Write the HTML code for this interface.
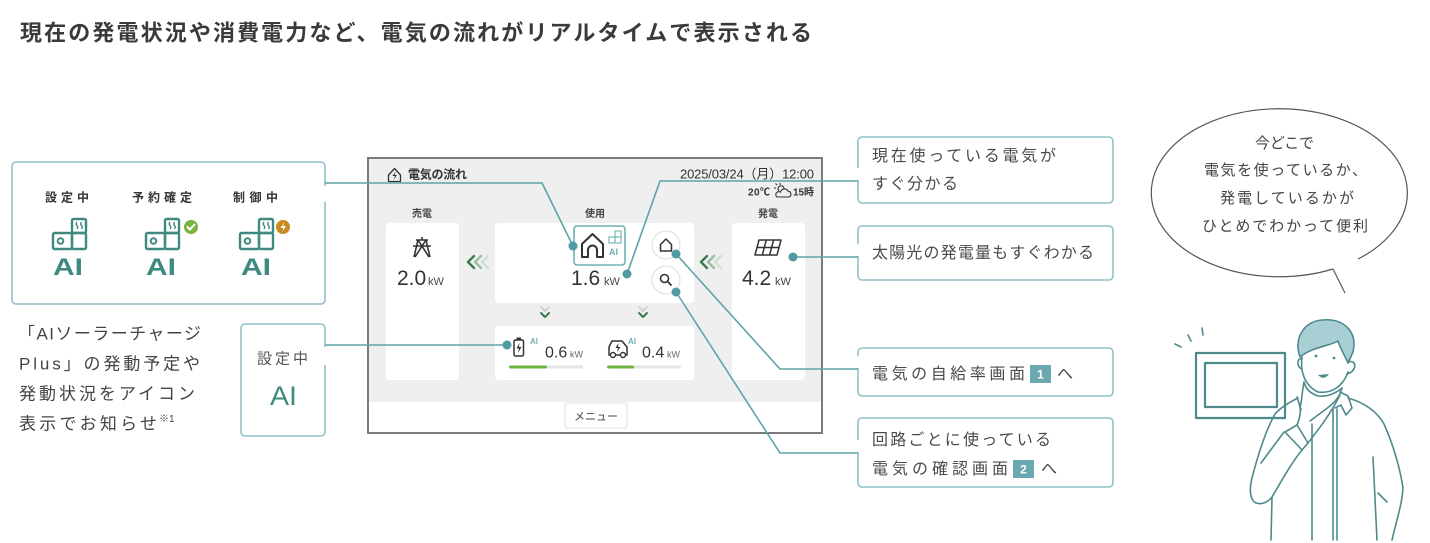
<!DOCTYPE html>
<html><head><meta charset="utf-8">
<style>
html,body{margin:0;padding:0;background:#fff;}
svg{display:block;}
text{font-family:"Liberation Sans","Noto Sans CJK JP",sans-serif;}
</style></head><body>
<svg width="1430" height="543" viewBox="0 0 1430 543" xmlns="http://www.w3.org/2000/svg">
<rect width="1430" height="543" fill="#fff"/>

<!-- Title -->
<text x="20" y="40.5" font-size="22" font-weight="bold" fill="#3a3a3a" textLength="792">現在の発電状況や消費電力など、電気の流れがリアルタイムで表示される</text>

<!-- Left top box -->
<rect x="12" y="162" width="313" height="142" rx="4" fill="none" stroke="#8ec2c7" stroke-width="1.6"/>
<rect x="322" y="186" width="6" height="16" fill="#fff"/>
<g font-size="12" font-weight="bold" fill="#333">
<text x="45" y="201.5" textLength="44">設定中</text>
<text x="132" y="201.5" textLength="60">予約確定</text>
<text x="233" y="201.5" textLength="45">制御中</text>
</g>
<g fill="none" stroke="#3f8a80" stroke-width="2.4" stroke-linejoin="round">
 <g transform="translate(52,218)">
  <rect x="20" y="1" width="14" height="14" rx="1.5"/><rect x="1" y="15" width="19" height="16" rx="1.5"/><rect x="20" y="15" width="14" height="16" rx="1.5"/>
  <circle cx="8.5" cy="23" r="2.8" stroke-width="2"/>
  <path d="M25,4 q-1.5,2 0,3.5 q1.5,1.5 0,3.5 M29.5,4 q-1.5,2 0,3.5 q1.5,1.5 0,3.5" stroke-width="1.4"/>
 </g>
 <g transform="translate(145,218)">
  <rect x="20" y="1" width="14" height="14" rx="1.5"/><rect x="1" y="15" width="19" height="16" rx="1.5"/><rect x="20" y="15" width="14" height="16" rx="1.5"/>
  <circle cx="8.5" cy="23" r="2.8" stroke-width="2"/>
  <path d="M25,4 q-1.5,2 0,3.5 q1.5,1.5 0,3.5 M29.5,4 q-1.5,2 0,3.5 q1.5,1.5 0,3.5" stroke-width="1.4"/>
 </g>
 <g transform="translate(239,218)">
  <rect x="20" y="1" width="14" height="14" rx="1.5"/><rect x="1" y="15" width="19" height="16" rx="1.5"/><rect x="20" y="15" width="14" height="16" rx="1.5"/>
  <circle cx="8.5" cy="23" r="2.8" stroke-width="2"/>
  <path d="M25,4 q-1.5,2 0,3.5 q1.5,1.5 0,3.5 M29.5,4 q-1.5,2 0,3.5 q1.5,1.5 0,3.5" stroke-width="1.4"/>
 </g>
</g>
<circle cx="191" cy="227" r="7" fill="#7cb342"/>
<path d="M187.5,227 L190,229.5 L194.5,224.5" fill="none" stroke="#fff" stroke-width="2" stroke-linecap="round"/>
<circle cx="283" cy="227" r="7" fill="#c98a1f"/>
<path d="M284.5,222 L280.5,228 H283.5 L282,232.5 L286,226 H283 Z" fill="#fff"/>
<g font-size="24" font-weight="bold" fill="#3f8a80">
<text x="53" y="275" textLength="30" lengthAdjust="spacingAndGlyphs">AI</text>
<text x="146" y="275" textLength="30" lengthAdjust="spacingAndGlyphs">AI</text>
<text x="241" y="275" textLength="30" lengthAdjust="spacingAndGlyphs">AI</text>
</g>

<!-- Left paragraph -->
<g font-size="17" fill="#444">
<text x="18" y="339.5" textLength="183">「AIソーラーチャージ</text>
<text x="19" y="369.5" textLength="181">Plus」の発動予定や</text>
<text x="19" y="399.5" textLength="176">発動状況をアイコン</text>
<text x="19" y="429.5" textLength="138">表示でお知らせ</text>
<text x="159" y="422" font-size="10">※1</text>
</g>

<!-- 設定中 box -->
<rect x="241" y="324" width="84" height="112" rx="4" fill="none" stroke="#8ec2c7" stroke-width="1.6"/>
<rect x="322" y="347" width="6" height="18" fill="#fff"/>
<text x="257" y="363.5" font-size="15" fill="#555" textLength="51">設定中</text>
<text x="270" y="405" font-size="27" fill="#3f8a80" textLength="27" lengthAdjust="spacingAndGlyphs">AI</text>

<!-- Screen -->
<rect x="368" y="158" width="454" height="275" fill="#efefef" stroke="#7b7b7b" stroke-width="2"/>
<rect x="369" y="402" width="452" height="30" fill="#fff"/>
<rect x="565" y="403" width="62" height="25" rx="3" fill="#fff" stroke="#e0e0e0"/>
<text x="596" y="420" font-size="11" fill="#444" text-anchor="middle">メニュー</text>

<!-- header -->
<path d="M388.5,175 L394.5,168.5 L400.5,175 V181.5 H388.5 Z" fill="none" stroke="#333" stroke-width="1.3" stroke-linejoin="round"/>
<path d="M395.5,171.5 L392.5,176 H395 L393.5,180 L397,175 H394.5 Z" fill="#333"/>
<text x="408" y="178.5" font-size="12" font-weight="bold" fill="#333" textLength="59">電気の流れ</text>
<text x="680" y="178.5" font-size="13" fill="#333" textLength="134">2025/03/24（月）12:00</text>
<text x="748" y="195.5" font-size="10" font-weight="bold" fill="#333" textLength="22">20℃</text>
<g fill="none" stroke="#333" stroke-width="1.1">
<path d="M779,191 a3,3 0 1 1 5,-2.5 M780,185 v-2 M776,188 h-2 M777,185 l-1.5,-1.5"/>
<path d="M777,197 h12 a3,3 0 0 0 -1,-5.8 a4,4 0 0 0 -7.5,1 a2.5,2.5 0 0 0 -3.5,4.8 Z"/>
</g>
<text x="793" y="195.5" font-size="10" font-weight="bold" fill="#333" textLength="21">15時</text>

<g font-size="10" font-weight="bold" fill="#444" text-anchor="middle">
<text x="422" y="217">売電</text>
<text x="595" y="217">使用</text>
<text x="768" y="217">発電</text>
</g>

<rect x="386" y="223" width="73" height="157" rx="4" fill="#fff"/>
<rect x="495" y="223" width="199" height="80" rx="4" fill="#fff"/>
<rect x="732" y="223" width="73" height="157" rx="4" fill="#fff"/>
<rect x="495" y="326" width="199" height="54" rx="4" fill="#fff"/>

<!-- tower -->
<path d="M416,240 H428 M413,246 H431 M422,237 V240 M418,240 L414,257 M426,240 L430,257 M418,240 L429,257 M426,240 L415,257" fill="none" stroke="#333" stroke-width="1.6"/>
<text x="397" y="285" font-size="21" fill="#333">2.0</text>
<text x="428" y="285" font-size="11" fill="#444">kW</text>

<!-- chevrons -->
<g fill="none" stroke-width="2.4" stroke-linecap="round" stroke-linejoin="round">
<path d="M474,256 L468,262 L474,268" stroke="#3d7b4f"/>
<path d="M481,256 L475,262 L481,268" stroke="#9abfa3"/>
<path d="M488,256 L482,262 L488,268" stroke="#cfe1d3"/>
<path d="M707,256 L701,262 L707,268" stroke="#3d7b4f"/>
<path d="M714,256 L708,262 L714,268" stroke="#9abfa3"/>
<path d="M721,256 L715,262 L721,268" stroke="#cfe1d3"/>
<path d="M541,307 L545,311 L549,307" stroke="#c3d3c7" stroke-width="1.6"/>
<path d="M541,313 L545,317 L549,313" stroke="#3d7b4f" stroke-width="2"/>
<path d="M639,307 L643,311 L647,307" stroke="#c3d3c7" stroke-width="1.6"/>
<path d="M639,313 L643,317 L647,313" stroke="#3d7b4f" stroke-width="2"/>
</g>

<!-- house box -->
<rect x="574" y="226" width="51" height="39" rx="3" fill="#fff" stroke="#6fb0b5" stroke-width="1.6"/>
<path d="M582,257 V244 L592.5,234 L603,244 V257 H597 V250 A4.5,4.5 0 0 0 588,250 V257 Z" fill="none" stroke="#333" stroke-width="2" stroke-linejoin="round"/>
<g fill="none" stroke="#6fb0b5" stroke-width="1.1">
<rect x="615" y="231" width="6" height="6"/><rect x="609" y="237" width="6" height="6"/><rect x="615" y="237" width="6" height="6"/>
</g>
<text x="609" y="255" font-size="9" font-weight="bold" fill="#6fb0b5">AI</text>
<text x="571" y="285" font-size="21" fill="#333">1.6</text>
<text x="604" y="285" font-size="11" fill="#444">kW</text>

<!-- round buttons -->
<circle cx="666" cy="245" r="14" fill="#fff" stroke="#dcdcdc"/>
<path d="M660.5,251 V244.5 L666,239 L671.5,244.5 V251 Z" fill="none" stroke="#333" stroke-width="1.5" stroke-linejoin="round"/>
<circle cx="666" cy="280" r="14" fill="#fff" stroke="#dcdcdc"/>
<circle cx="664.5" cy="278.5" r="4" fill="none" stroke="#333" stroke-width="1.6"/>
<path d="M667.5,281.5 L671,285" stroke="#333" stroke-width="1.8" stroke-linecap="round"/>

<!-- solar -->
<path d="M759,240 H781 L777,255 H755 Z M766.3,240 L762.3,255 M773.6,240 L769.6,255 M757,247.5 H779" fill="none" stroke="#333" stroke-width="1.5" stroke-linejoin="round"/>
<text x="742" y="285" font-size="21" fill="#333">4.2</text>
<text x="775" y="285" font-size="11" fill="#444">kW</text>

<!-- bottom panel -->
<rect x="514" y="340" width="9.5" height="16" rx="1.5" fill="none" stroke="#333" stroke-width="1.5"/>
<rect x="516.5" y="337.5" width="4.5" height="2.5" fill="#333"/>
<path d="M519.5,343 L516.5,348.5 H519 L518,353 L521.5,347 H519 Z" fill="#333"/>
<text x="530" y="344" font-size="8" font-weight="bold" fill="#6fb0b5">AI</text>
<text x="545" y="357.5" font-size="16" fill="#333">0.6</text>
<text x="570" y="357.5" font-size="9" fill="#666">kW</text>
<path d="M609,355 V347 L612,341 H622 L627,347 V355 Z" fill="none" stroke="#333" stroke-width="1.5" stroke-linejoin="round"/>
<circle cx="613" cy="355" r="2.5" fill="#fff" stroke="#333" stroke-width="1.4"/>
<circle cx="623" cy="355" r="2.5" fill="#fff" stroke="#333" stroke-width="1.4"/>
<path d="M618.5,343 L615.5,348 H618 L617,352 L620.5,347 H618 Z" fill="#333"/>
<text x="628" y="344" font-size="8" font-weight="bold" fill="#6fb0b5">AI</text>
<text x="642" y="357.5" font-size="16" fill="#333">0.4</text>
<text x="667" y="357.5" font-size="9" fill="#666">kW</text>
<rect x="509" y="365.5" width="74" height="3" rx="1.5" fill="#e5e5e5"/>
<rect x="509" y="365.5" width="38" height="3" rx="1.5" fill="#6db33f"/>
<rect x="607" y="365.5" width="74" height="3" rx="1.5" fill="#e5e5e5"/>
<rect x="607" y="365.5" width="27" height="3" rx="1.5" fill="#6db33f"/>

<!-- Right boxes -->
<g fill="none" stroke="#8ec2c7" stroke-width="1.6">
<rect x="858" y="137" width="255" height="66" rx="4"/>
<rect x="858" y="226" width="255" height="54" rx="4"/>
<rect x="858" y="348" width="255" height="48" rx="4"/>
<rect x="858" y="418" width="255" height="69" rx="4"/>
</g>
<rect x="855" y="168" width="6" height="12" fill="#fff"/>
<rect x="855" y="244" width="6" height="12" fill="#fff"/>
<rect x="855" y="356" width="6" height="12" fill="#fff"/>
<rect x="855" y="440" width="6" height="12" fill="#fff"/>
<g font-size="16" fill="#4a4a4a">
<text x="872" y="161" textLength="184">現在使っている電気が</text>
<text x="872" y="189" textLength="86">すぐ分かる</text>
<text x="872" y="258" textLength="222">太陽光の発電量もすぐわかる</text>
<text x="872" y="379" textLength="153">電気の自給率画面</text>
<text x="1057" y="379">へ</text>
<text x="872" y="445" textLength="179">回路ごとに使っている</text>
<text x="872" y="474" textLength="136">電気の確認画面</text>
<text x="1041" y="474">へ</text>
</g>
<rect x="1030" y="365" width="21" height="18" fill="#6aa9b0"/>
<text x="1040.5" y="378.5" font-size="12" font-weight="bold" fill="#fff" text-anchor="middle">1</text>
<rect x="1013" y="460" width="21" height="18" fill="#6aa9b0"/>
<text x="1023.5" y="473.5" font-size="12" font-weight="bold" fill="#fff" text-anchor="middle">2</text>

<!-- connectors -->
<g fill="none" stroke="#5ea3aa" stroke-width="1.6" stroke-linejoin="round">
<path d="M325,183 H542 L573,246"/>
<path d="M325,345 H507"/>
<path d="M858,181 H660 L627,274"/>
<path d="M793,257 H858"/>
<path d="M676,254 L780,369 H858"/>
<path d="M676,292 L780,453 H858"/>
</g>
<g fill="#4f9aa3">
<circle cx="573" cy="246" r="4.5"/>
<circle cx="627" cy="274" r="4.5"/>
<circle cx="676" cy="254" r="4.5"/>
<circle cx="676" cy="292" r="4.5"/>
<circle cx="793" cy="257" r="4.5"/>
<circle cx="507" cy="345" r="4.5"/>
</g>

<!-- Speech bubble -->
<path d="M1333,269 A128,84 0 1 1 1358,259" fill="none" stroke="#555" stroke-width="1.2"/>
<path d="M1333,269 L1345,293" fill="none" stroke="#555" stroke-width="1.2"/>
<g font-size="15" fill="#444">
<text x="1255" y="148" textLength="59">今どこで</text>
<text x="1204" y="175" textLength="163">電気を使っているか、</text>
<text x="1220" y="203" textLength="134">発電しているかが</text>
<text x="1202" y="231" textLength="166">ひとめでわかって便利</text>
</g>

<!-- Person -->
<g fill="none" stroke="#4e8a8c" stroke-width="1.6" stroke-linecap="round" stroke-linejoin="round">
<rect x="1196" y="353" width="89" height="65" stroke-width="2.2"/>
<rect x="1205" y="363" width="72" height="44" stroke-width="2.2"/>
<path d="M1175,344 L1181,347 M1188,335 L1191,341 M1202,328 L1203,335"/>
<path d="M1300,357 C1294,340 1302,322 1322,320 C1342,318 1358,330 1353,352 L1348,363 C1345,356 1341,350 1338,341 C1330,346 1312,347 1300,357 Z" fill="#a8d0d4"/>
<path d="M1302,357 C1300,372 1305,386 1318,392 C1332,394 1343,386 1348,372"/>
<path d="M1349,362 C1356,359 1358,371 1347,374"/>
<path d="M1302,359 C1297,357 1296,367 1302,369"/>
<path d="M1304,382 C1306,390 1312,394 1318,396 C1328,397 1336,393 1342,388"/>
<path d="M1342,388 C1340,398 1332,405 1322,412 L1310,421"/>
<path d="M1304,382 C1302,392 1302,400 1300,408"/>
<path d="M1297,397 L1301,410"/>
<path d="M1340,392 L1348,396 L1352,408 L1346,415 L1341,405 L1335,408"/>
<path d="M1312,424 V540 M1333,409 V540 M1337,409 V540"/>
<path d="M1348,398 C1362,402 1376,410 1384,424 C1393,444 1400,468 1403,488 C1402,505 1396,522 1392,540"/>
<path d="M1373,457 L1377,540 M1378,493 L1387,502"/>
<path d="M1298,398 C1288,403 1280,408 1275,414 C1266,430 1258,455 1252,478 C1249,490 1250,500 1256,503 C1262,505 1268,502 1272,497"/>
<path d="M1261,463 L1284,432"/>
<path d="M1285,432 L1297,425 L1308,443 L1302,450 Z"/>
<path d="M1272,497 C1282,480 1292,462 1302,450"/>
<path d="M1297,425 C1300,418 1301,412 1300,406"/>
<path d="M1308,443 C1318,430 1330,415 1340,395"/>
<path d="M1272,497 L1271,540"/>
</g>
<g fill="#4e8a8c">
<circle cx="1316" cy="356" r="1.4"/>
<circle cx="1334" cy="358" r="1.4"/>
<path d="M1318,375 Q1324,381 1329,374 Z"/>
</g>
</svg>
</body></html>
